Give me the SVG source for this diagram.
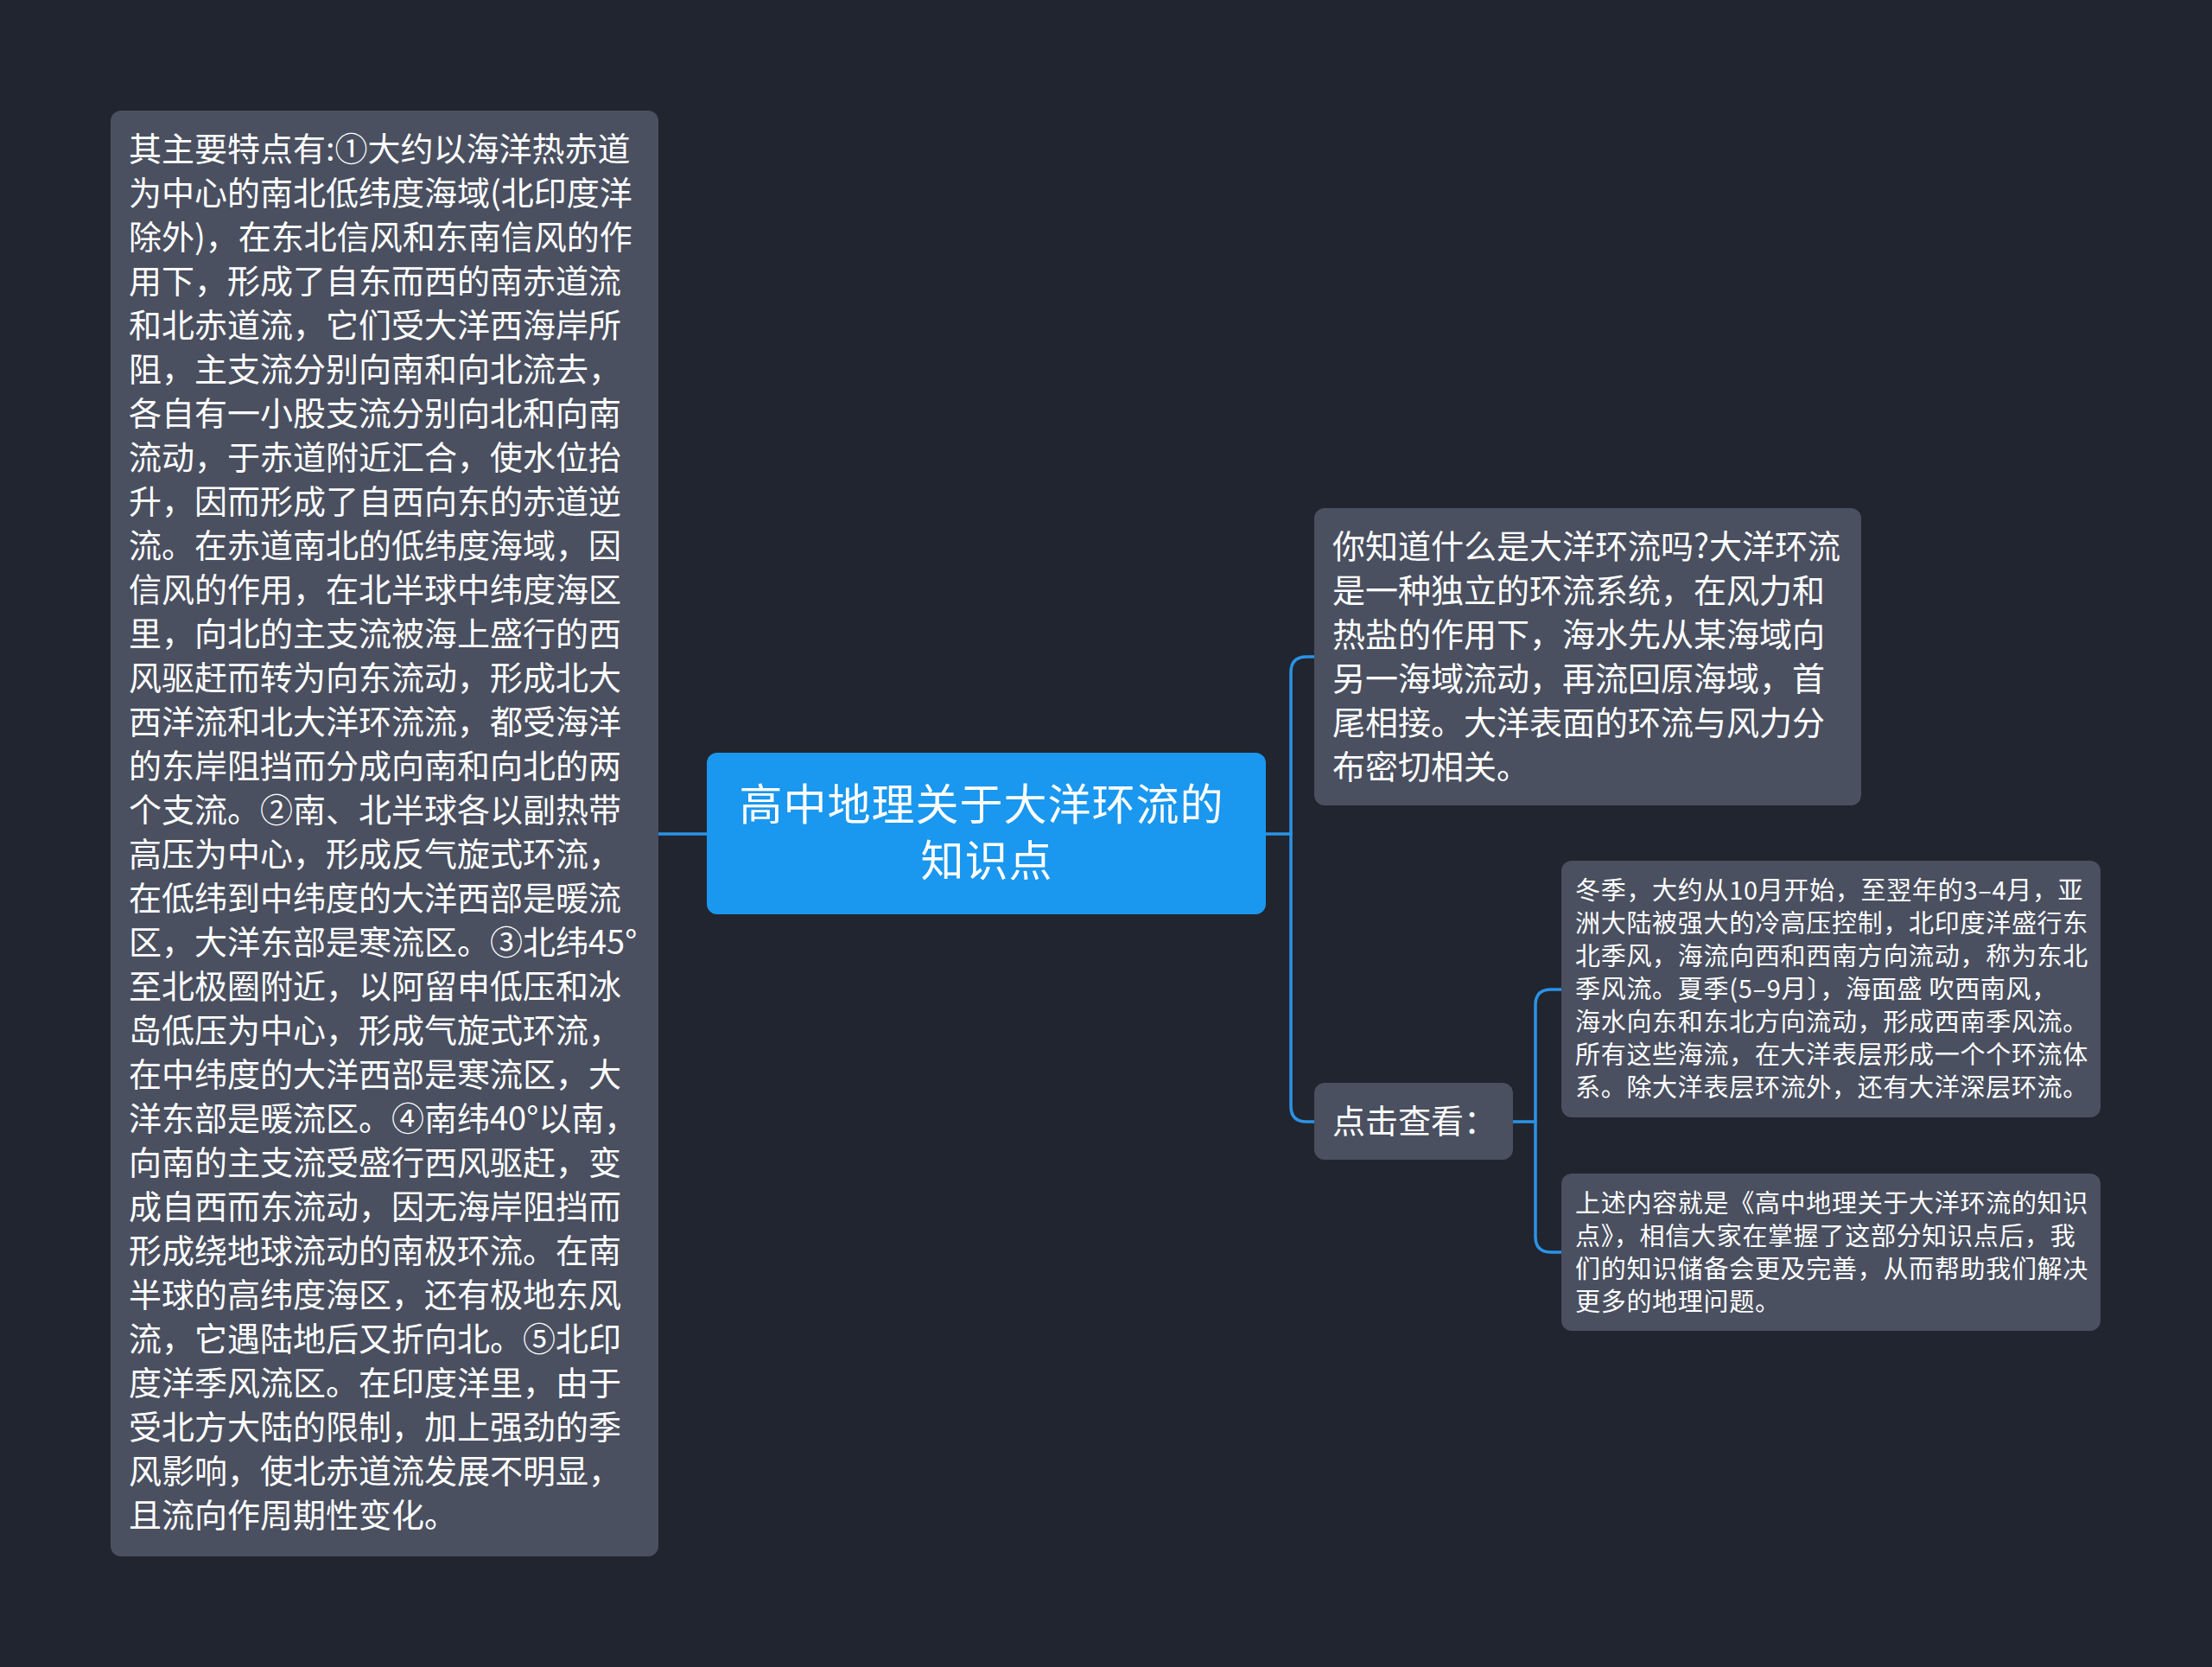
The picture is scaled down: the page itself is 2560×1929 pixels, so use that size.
<svg xmlns="http://www.w3.org/2000/svg" width="2560" height="1929" viewBox="0 0 2560 1929">
<style>
.bg{fill:#21252f}
.node{fill:#4a5060}
.root{fill:#1a97ee}
.t{font-family:"Noto Sans CJK SC","Noto Sans",sans-serif;fill:#ffffff}
.t38{font-size:38px}
.t30{font-size:29px;letter-spacing:0.7px}
.t50{font-size:50px;letter-spacing:1px}
.edge{fill:none;stroke:#2b93e6;stroke-width:3.5;stroke-linecap:round;stroke-linejoin:round}
</style>
<rect class="bg" x="0" y="0" width="2560" height="1929"/>
<g id="connectors">
<path class="edge" d="M762,965 L818,965"/>
<path class="edge" d="M1465,965 L1494,965"/>
<path class="edge" d="M1521,760 L1512,760 Q1494,760 1494,778 L1494,1280 Q1494,1298 1512,1298 L1521,1298"/>
<path class="edge" d="M1751,1298 L1777,1298"/>
<path class="edge" d="M1807,1145 L1795,1145 Q1777,1145 1777,1163 L1777,1431 Q1777,1449 1795,1449 L1807,1449"/>
</g>
<g id="node-left">
<rect class="node" x="128" y="128" width="634" height="1673" rx="12"/>
<text class="t t38" x="149" y="186">
<tspan x="149" dy="0">其主要特点有:①大约以海洋热赤道</tspan>
<tspan x="149" dy="51">为中心的南北低纬度海域(北印度洋</tspan>
<tspan x="149" dy="51">除外)，在东北信风和东南信风的作</tspan>
<tspan x="149" dy="51">用下，形成了自东而西的南赤道流</tspan>
<tspan x="149" dy="51">和北赤道流，它们受大洋西海岸所</tspan>
<tspan x="149" dy="51">阻，主支流分别向南和向北流去，</tspan>
<tspan x="149" dy="51">各自有一小股支流分别向北和向南</tspan>
<tspan x="149" dy="51">流动，于赤道附近汇合，使水位抬</tspan>
<tspan x="149" dy="51">升，因而形成了自西向东的赤道逆</tspan>
<tspan x="149" dy="51">流。在赤道南北的低纬度海域，因</tspan>
<tspan x="149" dy="51">信风的作用，在北半球中纬度海区</tspan>
<tspan x="149" dy="51">里，向北的主支流被海上盛行的西</tspan>
<tspan x="149" dy="51">风驱赶而转为向东流动，形成北大</tspan>
<tspan x="149" dy="51">西洋流和北大洋环流流，都受海洋</tspan>
<tspan x="149" dy="51">的东岸阻挡而分成向南和向北的两</tspan>
<tspan x="149" dy="51">个支流。②南、北半球各以副热带</tspan>
<tspan x="149" dy="51">高压为中心，形成反气旋式环流，</tspan>
<tspan x="149" dy="51">在低纬到中纬度的大洋西部是暖流</tspan>
<tspan x="149" dy="51">区，大洋东部是寒流区。③北纬45°</tspan>
<tspan x="149" dy="51">至北极圈附近，以阿留申低压和冰</tspan>
<tspan x="149" dy="51">岛低压为中心，形成气旋式环流，</tspan>
<tspan x="149" dy="51">在中纬度的大洋西部是寒流区，大</tspan>
<tspan x="149" dy="51">洋东部是暖流区。④南纬40°以南，</tspan>
<tspan x="149" dy="51">向南的主支流受盛行西风驱赶，变</tspan>
<tspan x="149" dy="51">成自西而东流动，因无海岸阻挡而</tspan>
<tspan x="149" dy="51">形成绕地球流动的南极环流。在南</tspan>
<tspan x="149" dy="51">半球的高纬度海区，还有极地东风</tspan>
<tspan x="149" dy="51">流，它遇陆地后又折向北。⑤北印</tspan>
<tspan x="149" dy="51">度洋季风流区。在印度洋里，由于</tspan>
<tspan x="149" dy="51">受北方大陆的限制，加上强劲的季</tspan>
<tspan x="149" dy="51">风影响，使北赤道流发展不明显，</tspan>
<tspan x="149" dy="51">且流向作周期性变化。</tspan>
</text>
</g>
<g id="node-root">
<rect class="root" x="818" y="871" width="647" height="187" rx="12"/>
<text class="t t50" text-anchor="middle" x="1142" y="949">
<tspan x="1142" dy="0">高中地理关于大洋环流的</tspan>
<tspan x="1142" dy="65">知识点</tspan>
</text>
</g>
<g id="node-intro">
<rect class="node" x="1521" y="588" width="633" height="344" rx="12"/>
<text class="t t38" x="1542" y="646">
<tspan x="1542" dy="0">你知道什么是大洋环流吗?大洋环流</tspan>
<tspan x="1542" dy="51">是一种独立的环流系统，在风力和</tspan>
<tspan x="1542" dy="51">热盐的作用下，海水先从某海域向</tspan>
<tspan x="1542" dy="51">另一海域流动，再流回原海域，首</tspan>
<tspan x="1542" dy="51">尾相接。大洋表面的环流与风力分</tspan>
<tspan x="1542" dy="51">布密切相关。</tspan>
</text>
</g>
<g id="node-click">
<rect class="node" x="1521" y="1253" width="230" height="89" rx="12"/>
<text class="t t38" x="1542" y="1311">点击查看：</text>
</g>
<g id="node-season">
<rect class="node" x="1807" y="996" width="624" height="297" rx="12"/>
<text class="t t30" x="1823" y="1041">
<tspan x="1823" dy="0">冬季，大约从10月开始，至翌年的3–4月，亚</tspan>
<tspan x="1823" dy="38">洲大陆被强大的冷高压控制，北印度洋盛行东</tspan>
<tspan x="1823" dy="38">北季风，海流向西和西南方向流动，称为东北</tspan>
<tspan x="1823" dy="38">季风流。夏季(5–9月〕，海面盛 吹西南风，</tspan>
<tspan x="1823" dy="38">海水向东和东北方向流动，形成西南季风流。</tspan>
<tspan x="1823" dy="38">所有这些海流，在大洋表层形成一个个环流体</tspan>
<tspan x="1823" dy="38">系。除大洋表层环流外，还有大洋深层环流。</tspan>
</text>
</g>
<g id="node-summary">
<rect class="node" x="1807" y="1358" width="624" height="182" rx="12"/>
<text class="t t30" x="1823" y="1403">
<tspan x="1823" dy="0">上述内容就是《高中地理关于大洋环流的知识</tspan>
<tspan x="1823" dy="38">点》，相信大家在掌握了这部分知识点后，我</tspan>
<tspan x="1823" dy="38">们的知识储备会更及完善，从而帮助我们解决</tspan>
<tspan x="1823" dy="38">更多的地理问题。</tspan>
</text>
</g>
</svg>
